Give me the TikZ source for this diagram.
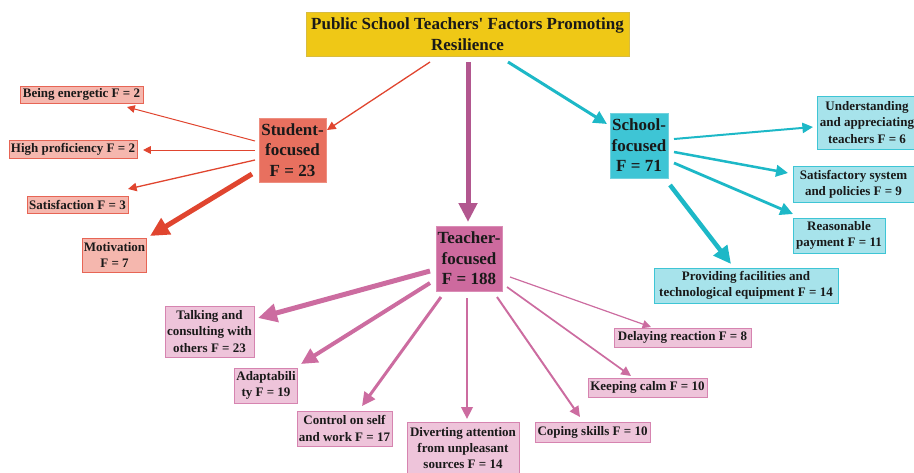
\documentclass[tikz,border=0pt]{standalone}
\usepackage{fontspec}
\setmainfont{Liberation Serif}
\usetikzlibrary{arrows.meta,calc}

\definecolor{titlefill}{HTML}{EFC816}
\definecolor{titledraw}{HTML}{D8BC40}
\definecolor{redhub}{HTML}{E8705F}
\definecolor{redhubdraw}{HTML}{EE8E80}
\definecolor{redleaf}{HTML}{F5B7AE}
\definecolor{redleafdraw}{HTML}{E76555}
\definecolor{rededge}{HTML}{E0452F}
\definecolor{cyanhub}{HTML}{3EC5D5}
\definecolor{cyanhubdraw}{HTML}{72D2DE}
\definecolor{cyanleaf}{HTML}{A7E3EB}
\definecolor{cyanleafdraw}{HTML}{3EC5D5}
\definecolor{cyanedge}{HTML}{1DB8C7}
\definecolor{pinkhub}{HTML}{CD6A9E}
\definecolor{pinkhubdraw}{HTML}{DA8CB6}
\definecolor{pinkleaf}{HTML}{EEC4DA}
\definecolor{pinkleafdraw}{HTML}{D684B0}
\definecolor{pinkedge}{HTML}{CC6CA0}
\definecolor{plumedge}{HTML}{B2578F}

\begin{document}
\begin{tikzpicture}[x=1pt,y=-1pt,
  every node/.style={align=center, inner sep=1.5pt, text=black!90, line width=0.8pt},
  titlebox/.style={fill=titlefill, draw=titledraw,
    font=\bfseries\fontsize{17}{20.5}\selectfont},
  hub/.style={font=\bfseries\fontsize{17}{20.5}\selectfont},
  leaf/.style={font=\bfseries\fontsize{13}{16.3}\selectfont},
  redhubbox/.style={hub, fill=redhub, draw=redhubdraw},
  cyanhubbox/.style={hub, fill=cyanhub, draw=cyanhubdraw},
  pinkhubbox/.style={hub, fill=pinkhub, draw=pinkhubdraw},
  redleafbox/.style={leaf, fill=redleaf, draw=redleafdraw},
  cyanleafbox/.style={leaf, fill=cyanleaf, draw=cyanleafdraw},
  pinkleafbox/.style={leaf, fill=pinkleaf, draw=pinkleafdraw},
  link/.style={-{Triangle[length=5pt 2.8, width=5pt 2.6]}},
  redlink/.style={link, draw=rededge},
  cyanlink/.style={link, draw=cyanedge},
  pinklink/.style={link, draw=pinkedge},
  plumlink/.style={link, draw=plumedge}
]
\useasboundingbox (0,0) rectangle (914,472);

% title
\node[titlebox, minimum width=323pt, minimum height=44pt] (title) at (467.5,34)
  {Public School Teachers\textquotesingle\ Factors Promoting\\Resilience};

% three hubs
\node[redhubbox, minimum width=67pt, minimum height=64pt] (student) at (292.5,150)
  {Student-\\focused\\F = 23};
\node[cyanhubbox, minimum width=58pt, minimum height=65pt] (school) at (639,145.5)
  {School-\\focused\\F = 71};
\node[pinkhubbox, minimum width=66pt, minimum height=65pt] (teacher) at (469,258.5)
  {Teacher-\\focused\\F = 188};

% student-focused factors
\node[redleafbox, minimum width=123pt, minimum height=17pt] (energetic) at (81.5,94.5)
  {Being energetic F = 2};
\node[redleafbox, minimum width=128pt, minimum height=18pt] (proficiency) at (73,149)
  {High proficiency F = 2};
\node[redleafbox, minimum width=101pt, minimum height=17pt] (satisfaction) at (77.5,204.5)
  {Satisfaction F = 3};
\node[redleafbox, minimum width=63pt, minimum height=34pt] (motivation) at (114.5,255)
  {Motivation\\F = 7};

% school-focused factors
\node[cyanleafbox, minimum width=100pt, minimum height=53pt] (understanding) at (867,122.5)
  {Understanding\\and appreciating\\teachers F = 6};
\node[cyanleafbox, minimum width=121pt, minimum height=36pt] (system) at (853.5,184)
  {Satisfactory system\\and policies F = 9};
\node[cyanleafbox, minimum width=92pt, minimum height=35pt] (payment) at (839,235.5)
  {Reasonable\\payment F = 11};
\node[cyanleafbox, minimum width=184pt, minimum height=35pt] (facilities) at (746,285.5)
  {Providing facilities and\\technological equipment F = 14};

% teacher-focused factors
\node[pinkleafbox, minimum width=89pt, minimum height=51pt] (talking) at (209.5,331.5)
  {Talking and\\consulting with\\others F = 23};
\node[pinkleafbox, minimum width=62pt, minimum height=35pt] (adapt) at (266,385.5)
  {Adaptabili\\ty F = 19};
\node[pinkleafbox, minimum width=95pt, minimum height=35pt] (control) at (344.5,428.5)
  {Control on self\\and work F = 17};
\node[pinkleafbox, minimum width=112pt, minimum height=52pt] (diverting) at (463,448)
  {Diverting attention\\from unpleasant\\sources F = 14};
\node[pinkleafbox, minimum width=115pt, minimum height=20pt] (coping) at (592.5,432)
  {Coping skills F = 10};
\node[pinkleafbox, minimum width=119pt, minimum height=19pt] (calm) at (647.5,387.5)
  {Keeping calm F = 10};
\node[pinkleafbox, minimum width=137pt, minimum height=19pt] (delaying) at (682.5,337.5)
  {Delaying reaction F = 8};

% title to hubs
\draw[redlink, line width=1.3pt] ($(title)+(-37.5,28)$) -- ($(student)+(34.5,-20)$);
\draw[plumlink, line width=5pt] ($(title)+(0.5,28)$) -- ($(teacher)+(-1,-36.5)$);
\draw[cyanlink, line width=3pt] ($(title)+(40.5,28)$) -- ($(school)+(-32,-21.5)$);

% student hub to its factors
\draw[redlink, line width=1pt] ($(student)+(-37.5,-9)$) -- ($(energetic)+(45.5,12.5)$);
\draw[redlink, line width=1pt] ($(student)+(-37.5,0)$) -- ($(proficiency)+(70,1)$);
\draw[redlink, line width=1.3pt] ($(student)+(-37.5,10)$) -- ($(satisfaction)+(50.5,-15.5)$);
\draw[redlink, line width=5pt] ($(student)+(-40.5,24)$) -- ($(motivation)+(35.5,-19)$);

% school hub to its factors
\draw[cyanlink, line width=2pt] ($(school)+(35,-6.5)$) -- ($(understanding)+(-54,4.5)$);
\draw[cyanlink, line width=2.5pt] ($(school)+(35,6.5)$) -- ($(system)+(-65.5,-11)$);
\draw[cyanlink, line width=2.8pt] ($(school)+(35,17.5)$) -- ($(payment)+(-46,-21.5)$);
\draw[cyanlink, line width=4.5pt] ($(school)+(31,39.5)$) -- ($(facilities)+(-15,-21.5)$);

% teacher hub to its factors
\draw[pinklink, line width=5pt] ($(teacher)+(-39,12.5)$) -- ($(talking)+(48.5,-13.5)$);
\draw[pinklink, line width=4pt] ($(teacher)+(-39,24.5)$) -- ($(adapt)+(35,-21.5)$);
\draw[pinklink, line width=3pt] ($(teacher)+(-28,38.5)$) -- ($(control)+(17.5,-22.5)$);
\draw[pinklink, line width=2.5pt] ($(teacher)+(-2,39.5)$) -- ($(diverting)+(4,-29)$);
\draw[pinklink, line width=2pt] ($(teacher)+(28,38.5)$) -- ($(coping)+(-12.5,-15)$);
\draw[pinklink, line width=1.7pt] ($(teacher)+(38,28.5)$) -- ($(calm)+(-16.5,-11.5)$);
\draw[pinklink, line width=1.2pt] ($(teacher)+(41,18.5)$) -- ($(delaying)+(-31.5,-10.5)$);
\end{tikzpicture}
\end{document}
